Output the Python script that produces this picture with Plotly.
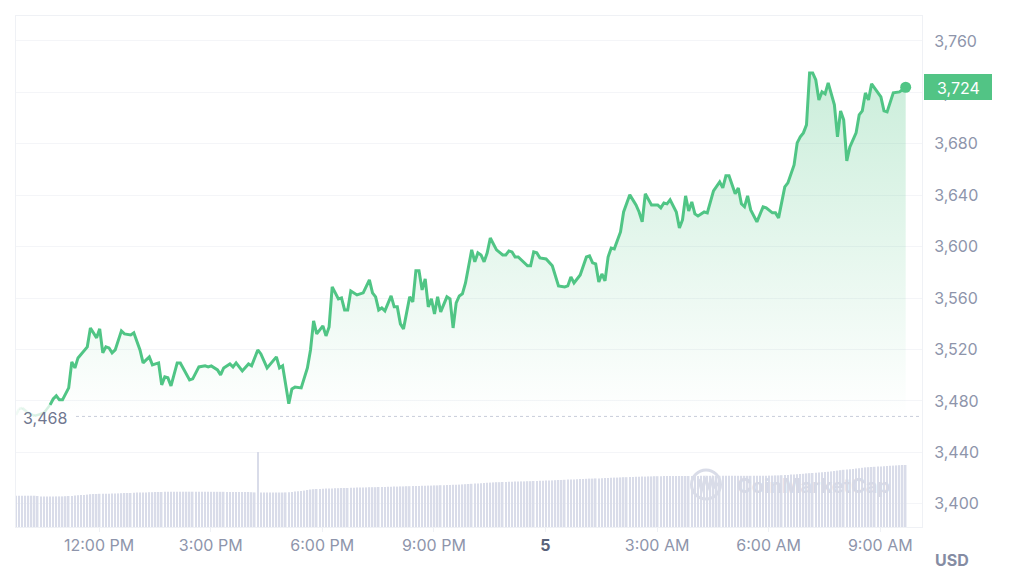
import pandas as pd
import plotly.graph_objects as go

START = "2024-03-04 09:46"
LINE_STEPS = [0,1,2,4,6,9,11,12,13,14,15,17,18,19,20,23,24,26,27,28,29,30,31,32,34,35,37,38,40,41,43,44,46,47,48,49,50,52,53,56,57,59,61,62,63,65,66,67,69,70,71,73,75,76,78,79,81,84,85,86,88,89,90,92,94,95,96,97,99,100,101,102,104,105,106,107,108,110,112,114,115,116,117,118,119,121,122,123,124,125,127,128,129,130,131,132,133,134,135,136,137,139,140,141,142,143,144,145,147,148,149,150,151,152,153,155,157,158,159,160,161,162,165,166,167,168,169,171,173,175,177,178,179,180,182,184,185,186,187,188,189,190,191,192,193,195,196,197,198,200,201,202,203,205,207,208,209,210,211,213,214,215,216,217,218,219,220,222,223,225,227,228,229,230,232,233,234,235,236,237,239,241,242,244,245,246,248,249,251,252,253,254,255,256,257,258,259,260,261,262,263,264,265,266,267,268,269,271,272,273,274,275,276,278,279,280,281,283,285,287]
LINE_PRICES = [3469.2,3473.9,3474.6,3470.7,3468.4,3470.7,3477,3481.6,3484,3480.9,3480.9,3490.2,3510.4,3505.7,3513.5,3522.1,3536.8,3529.1,3536.1,3517.4,3522.1,3521.3,3517.4,3519.7,3534.5,3532.2,3531.4,3533,3519.7,3509.6,3514.3,3508.1,3509.6,3492.5,3498.7,3498,3491.7,3509.6,3509.6,3496.4,3497.2,3506.5,3507.3,3506.5,3507.3,3504.2,3500.3,3505.7,3508.8,3506.5,3509.6,3503.4,3508.8,3507.3,3519.7,3516.6,3505.7,3514.3,3505.7,3507.3,3477.8,3489.4,3490.8,3490.2,3505.7,3519.7,3542.3,3532.2,3538.4,3530.6,3537.6,3568.7,3559.4,3560.2,3550.8,3550.8,3565.6,3562.5,3564.1,3574.2,3564.1,3561,3550.8,3552.4,3550.1,3561.7,3553.2,3553.2,3540,3536.1,3561,3557.1,3581.2,3581.2,3566.4,3575,3553.2,3559.4,3547.7,3561,3549.3,3561,3559.4,3536.8,3556.3,3561.7,3563.3,3571.8,3597.5,3588.2,3595.2,3593.6,3588.2,3595.2,3606.8,3597.5,3593.6,3593.6,3596.7,3595.9,3592,3592,3585.1,3585.1,3595.9,3595.2,3591.3,3590.5,3585.1,3569.5,3568.7,3569.5,3576.5,3571.8,3578,3592,3592.8,3587.4,3586.6,3572.6,3578.8,3573.4,3592,3599,3598.3,3611.5,3627,3634,3640.3,3632.5,3627,3619.3,3641.1,3632.5,3632.5,3630.2,3634,3633.3,3636.4,3627,3614.6,3620.8,3639.5,3627.8,3634.8,3625.5,3623.9,3627,3626.3,3643.4,3650.4,3645.7,3655.1,3655.1,3641.1,3645.7,3633.3,3631,3639.5,3628.6,3619.3,3631,3630.2,3626.3,3626.3,3622.4,3646.5,3649.6,3663.6,3680.7,3685.4,3688.5,3694.7,3735.1,3735.1,3729.7,3714.1,3720.4,3718.8,3727.4,3719.6,3710.3,3685.4,3705.6,3698.6,3666.7,3677.6,3688.5,3702.5,3705.6,3719.6,3714.1,3726.6,3719.6,3716.5,3705.6,3704.8,3719.6,3720.4,3724]

VOLUME = [
 31.3,31.3,31.3,31.3,31.3,31.3,31.3,31,30.6,30.6,30.6,30.6,30.6,30.6,30.6,30.6,30.8,31,31,31.4,31.8,32,32,32.4,
 32.8,33,33,33.2,33.2,33.2,33.2,33.4,33.6,33.6,33.8,34,34,34,34.2,34.4,34.4,34.6,34.6,34.8,34.8,35,35,35,
 35.2,35.2,35.2,35.3,35.3,35.3,35.3,35.3,35.3,35.3,35.3,35.3,35.3,35.3,35.2,35.2,35.2,35.2,35.2,35.2,35.1,35.1,35,35,
 35,35,35,35,34.8,34.6,75,34.5,34.5,34.5,34.5,34.5,34.5,34.5,34.5,34.6,34.8,35,35.4,35.8,36,36.4,37,37.5,
 37.8,38,38,38.2,38.4,38.4,38.6,38.8,38.8,39,39,39,39.2,39.2,39.4,39.4,39.6,39.6,39.8,39.8,39.8,40,40,40,
 40.2,40.2,40.4,40.4,40.6,40.6,40.8,40.8,41,41,41,41.2,41.2,41.4,41.4,41.6,41.6,41.8,41.8,42,42,42.2,42.2,42.4,
 42.6,42.8,43,43.2,43.4,43.6,43.8,44,44.2,44.4,44.6,44.8,44.8,45,45,45.2,45.2,45.4,45.4,45.6,45.6,45.8,45.8,46,
 46,46.2,46.2,46.4,46.6,46.6,46.8,47,47,47.2,47.4,47.4,47.6,47.8,48,48,48.2,48.4,48.4,48.6,48.6,48.8,49,49,
 49.2,49.4,49.4,49.6,49.8,49.8,50,50,50.2,50.2,50.4,50.4,50.6,50.6,50.8,50.8,50.8,51,51,51,51,51,51,51,
 51,51,51,51,51,51.2,51.2,51.2,51.2,51.2,51.2,51.2,51.2,51.2,51.2,51.2,51.2,51.2,51.2,51.2,51.2,51.2,51.2,51.2,
 51.2,51.2,51.2,51.4,51.4,51.6,51.6,51.8,52,52,52.4,52.6,52.8,53,53.2,53.6,53.8,54,54.2,54.6,54.8,55,55.2,55.6,
 56,56.4,56.8,57.2,57.4,57.8,58,58.4,58.8,59.2,59.6,59.8,60,60.2,60.4,60.6,60.8,61,61.2,61.4,61.6,61.8,62,62,
]
BASE_PRICE = 3468
Y_TICKS = [3400,3440,3480,3520,3560,3600,3640,3680,3720,3760]
X_TICKS = ["2024-03-04 12:00","2024-03-04 15:00","2024-03-04 18:00","2024-03-04 21:00","2024-03-05 00:00","2024-03-05 03:00","2024-03-05 06:00","2024-03-05 09:00"]
X_LABELS = ["12:00 PM","3:00 PM","6:00 PM","9:00 PM","<span style='color:#58627a'><b>5</b></span>","3:00 AM","6:00 AM","9:00 AM"]
LAST_LABEL = "3,724"

GREEN = "#50c585"
GREY = "#8e95ab"
GRID = "#f4f5f8"
t0 = pd.Timestamp(START)
step = pd.Timedelta(minutes=5)
line_t = [(t0 + s*step).strftime("%Y-%m-%d %H:%M:%S") for s in LINE_STEPS]
vol_t = [(t0 + i*step).strftime("%Y-%m-%d %H:%M:%S") for i in range(len(VOLUME))]
x_end = (t0 + pd.Timedelta(hours=24.355)).strftime("%Y-%m-%d %H:%M:%S")

L, R, T, B = 16, 922, 16, 527
def px(x): return (x-L)/(R-L)
def py(y): return (B-y)/(B-T)

fig = go.Figure()
fig.add_trace(go.Bar(x=vol_t, y=VOLUME, yaxis="y2", marker=dict(color="#d9dce9", line_width=0), hoverinfo="skip"))
fig.add_trace(go.Scatter(x=line_t, y=[BASE_PRICE]*len(line_t), mode="lines", line=dict(width=0), hoverinfo="skip"))
fig.add_trace(go.Scatter(x=line_t, y=LINE_PRICES, mode="lines", line=dict(width=0), fill="tonexty",
    fillgradient=dict(type="vertical", start=BASE_PRICE, stop=max(LINE_PRICES),
        colorscale=[[0,"rgba(80,197,133,0)"],[1,"rgba(80,197,133,0.30)"]]), hoverinfo="skip"))
FADE_END = 6
for i in range(FADE_END):
    fig.add_trace(go.Scatter(x=line_t[i:i+2], y=LINE_PRICES[i:i+2], mode="lines",
        line=dict(color=GREEN, width=2.5), opacity=0.08+0.2*i/FADE_END, hoverinfo="skip"))
fig.add_trace(go.Scatter(x=line_t[FADE_END:], y=LINE_PRICES[FADE_END:], mode="lines",
    line=dict(color=GREEN, width=3, shape="linear"), hoverinfo="skip"))
fig.add_trace(go.Scatter(x=line_t[-1:], y=LINE_PRICES[-1:], mode="markers",
    marker=dict(color=GREEN, size=11), cliponaxis=False, hoverinfo="skip"))

font = "Inter, 'Noto Sans', sans-serif"
zig = [(698,489),(700.5,479),(703,489),(706,479),(709.5,489),(712.5,479),(715,487),(719,483)]
shapes = [
    dict(type="line", xref="paper", yref="y", x0=px(76), x1=1, y0=BASE_PRICE, y1=BASE_PRICE,
         line=dict(color="#c9cdda", width=1, dash="dot")),
    dict(type="circle", xref="paper", yref="paper", x0=px(691.5), x1=px(720.5), y0=py(499), y1=py(470),
         line=dict(color="#d9dce8", width=3)),
    dict(type="path", xref="paper", yref="paper",
         path="M " + " L ".join(f"{px(a):.5f},{py(b):.5f}" for a, b in zig),
         line=dict(color="#d9dce8", width=2.5)),
    dict(type="rect", xref="paper", yref="paper", x0=px(924), x1=px(992), y0=py(100), y1=py(74),
         fillcolor="#52c485", line_width=0),
]
def note(x, y, text, size, color):
    return dict(xref="paper", yref="paper", x=px(x), y=py(y), xanchor="center", yanchor="middle",
                text=text, showarrow=False, font=dict(family=font, size=size, color=color))
annotations = [
    note(958, 87.5, LAST_LABEL, 16, "white"),
    note(45, 418, "3,468", 16, "#70778f"),
    note(813, 486, "<b>CoinMarketCap</b>", 20, "#d6d9e6"),
    note(951.5, 560, "<b>USD</b>", 16, "#858ca3"),
]

fig.update_layout(
    width=1024, height=584, autosize=False,
    margin=dict(l=L, r=1024-R, t=T, b=584-B),
    paper_bgcolor="white", plot_bgcolor="white",
    showlegend=False, bargap=0.5, shapes=shapes, annotations=annotations,
    font=dict(family=font, color=GREY),
    xaxis=dict(type="date", range=[t0.strftime("%Y-%m-%d %H:%M:%S"), x_end], tickmode="array",
        tickvals=X_TICKS, ticktext=X_LABELS, showgrid=False, zeroline=False,
        showline=True, linecolor="#eff1f5", mirror=True, ticks="outside", ticklen=4, tickcolor="#eff1f5",
        tickfont=dict(family=font, size=16, color=GREY)),
    yaxis=dict(range=[3382.0, 3779.4], side="right", tickmode="array", tickvals=Y_TICKS, tickformat=",d",
        showgrid=True, gridcolor=GRID, gridwidth=1, zeroline=False, showline=True, linecolor="#eff1f5", mirror=True,
        ticks="outside", ticklen=8, tickcolor="rgba(0,0,0,0)",
        tickfont=dict(family=font, size=16, color=GREY)),
    yaxis2=dict(range=[0, B-T], overlaying="y", visible=False),
)
fig.write_html("out.html", config={"displayModeBar": False},
               post_script="document.body.style.margin='0';document.body.style.overflow='hidden';")
